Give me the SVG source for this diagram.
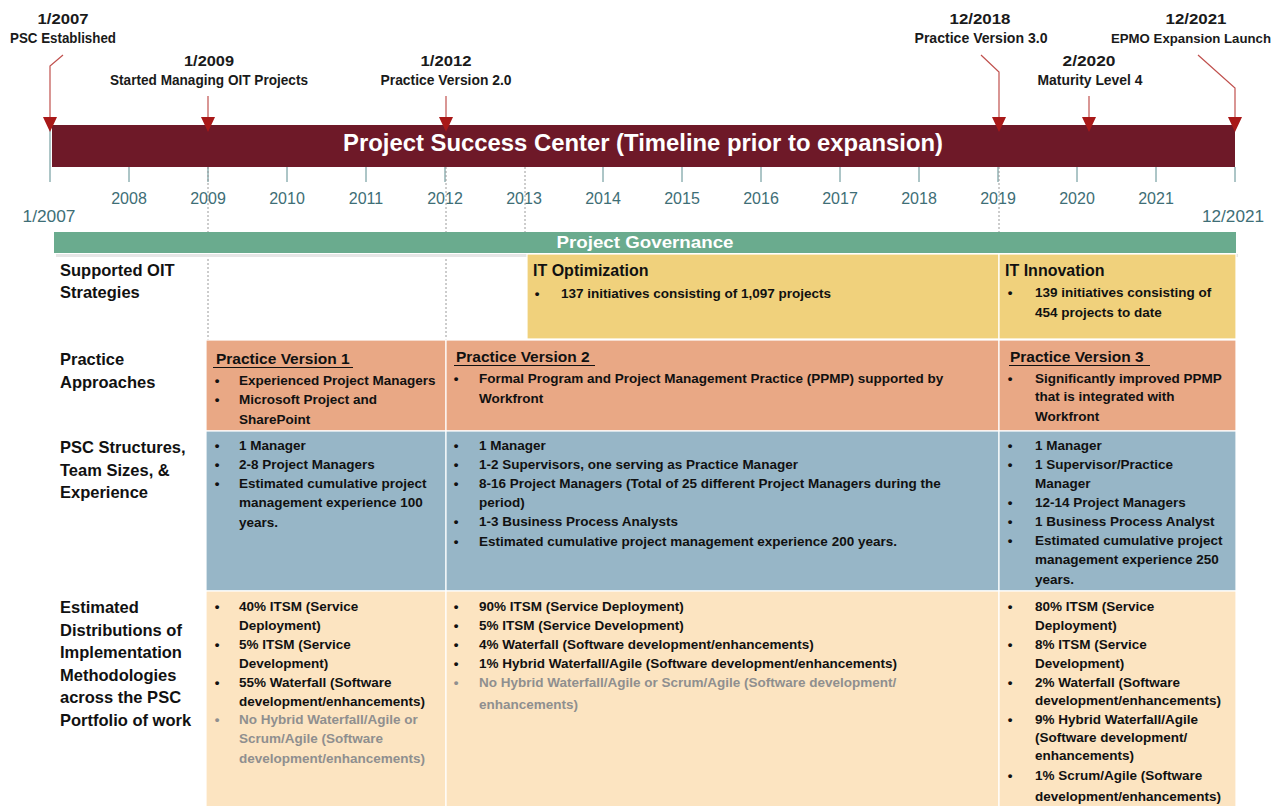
<svg xmlns="http://www.w3.org/2000/svg" width="1286" height="806" viewBox="0 0 1286 806">
<defs>
<style>
.bg{fill:#ffffff}
.ms{font-family:"Liberation Sans",Arial,sans-serif;font-weight:bold;font-size:15px;fill:#1a1a1a;text-anchor:middle}
.yr{font-family:"Liberation Sans",Arial,sans-serif;font-size:16px;fill:#3e6e76;text-anchor:middle}
.tick{stroke:#5a8c8f;stroke-width:1}
.grid{stroke:#9a9a9a;stroke-width:1;stroke-dasharray:2,2;fill:none}
.conn{stroke:#c0504d;stroke-width:1.2;fill:none}
.head{fill:#a81818}
.lbl{font-family:"Liberation Sans",Arial,sans-serif;font-weight:bold;font-size:16.5px;fill:#111}
.cell{stroke:#ffffff;stroke-width:1.2}
.t{font-family:"Liberation Sans",Arial,sans-serif;font-weight:bold;font-size:13.5px;fill:#111}
.g{fill:#8f8f8f}
.b{font-family:"Liberation Sans",Arial,sans-serif;font-weight:bold;font-size:13.5px;fill:#111;text-anchor:middle}
.bg2{fill:#8f8f8f}
.ttl{font-family:"Liberation Sans",Arial,sans-serif;font-weight:bold;font-size:15.5px;fill:#111}
.ul{stroke:#111;stroke-width:1.2}
.st{font-family:"Liberation Sans",Arial,sans-serif;font-weight:bold;font-size:16px;fill:#111}
</style>
</defs>
<rect class="bg" x="0" y="0" width="1286" height="806"/>

<g id="timeline">
  <rect x="52" y="125" width="1183" height="42" fill="#6e1928"/>
  <text x="643" y="151" font-family="Liberation Sans, Arial, sans-serif" font-weight="bold" font-size="23.5" fill="#ffffff" text-anchor="middle" textLength="600" lengthAdjust="spacingAndGlyphs">Project Success Center (Timeline prior to expansion)</text>
  <line class="tick" x1="50" y1="125" x2="50" y2="182"/>
  <line class="tick" x1="129" y1="167" x2="129" y2="182"/>
  <line class="tick" x1="287" y1="167" x2="287" y2="182"/>
  <line class="tick" x1="366" y1="167" x2="366" y2="182"/>
  <line class="tick" x1="603" y1="167" x2="603" y2="182"/>
  <line class="tick" x1="682" y1="167" x2="682" y2="182"/>
  <line class="tick" x1="761" y1="167" x2="761" y2="182"/>
  <line class="tick" x1="840" y1="167" x2="840" y2="182"/>
  <line class="tick" x1="919" y1="167" x2="919" y2="182"/>
  <line class="tick" x1="1077" y1="167" x2="1077" y2="182"/>
  <line class="tick" x1="1156" y1="167" x2="1156" y2="182"/>
  <line class="tick" x1="1235" y1="167" x2="1235" y2="182"/>
  <line class="tick" x1="208" y1="167" x2="208" y2="182"/>
  <line class="tick" x1="445" y1="167" x2="445" y2="182"/>
  <line class="tick" x1="998" y1="167" x2="998" y2="182"/>
  <text class="yr" x="129" y="204">2008</text>
  <text class="yr" x="208" y="204">2009</text>
  <text class="yr" x="287" y="204">2010</text>
  <text class="yr" x="366" y="204">2011</text>
  <text class="yr" x="445" y="204">2012</text>
  <text class="yr" x="524" y="204">2013</text>
  <text class="yr" x="603" y="204">2014</text>
  <text class="yr" x="682" y="204">2015</text>
  <text class="yr" x="761" y="204">2016</text>
  <text class="yr" x="840" y="204">2017</text>
  <text class="yr" x="919" y="204">2018</text>
  <text class="yr" x="998" y="204">2019</text>
  <text class="yr" x="1077" y="204">2020</text>
  <text class="yr" x="1156" y="204">2021</text>
  <text class="yr" x="49" y="222" textLength="53" lengthAdjust="spacingAndGlyphs">1/2007</text>
  <text class="yr" x="1233" y="222" textLength="62" lengthAdjust="spacingAndGlyphs">12/2021</text>
</g>

<g id="gridlines">
  <line class="grid" x1="208" y1="167" x2="208" y2="340"/>
  <line class="grid" x1="446" y1="167" x2="446" y2="340"/>
  <line class="grid" x1="525" y1="167" x2="525" y2="254"/>
  <line class="grid" x1="999" y1="167" x2="999" y2="254"/>
</g>

<g id="connectors">
  <polyline class="conn" points="63,55 50,66 50,118"/>
  <polygon class="head" points="43,117 57,117 50,132"/>
  <line class="conn" x1="208" y1="96" x2="208" y2="118"/>
  <polygon class="head" points="201,117 215,117 208,132"/>
  <line class="conn" x1="446" y1="96" x2="446" y2="118"/>
  <polygon class="head" points="439,117 453,117 446,132"/>
  <polyline class="conn" points="981,55 999,72 999,118"/>
  <polygon class="head" points="992,117 1006,117 999,132"/>
  <line class="conn" x1="1089" y1="96" x2="1089" y2="118"/>
  <polygon class="head" points="1082,117 1096,117 1089,132"/>
  <polyline class="conn" points="1198,55 1235,88 1235,118"/>
  <polygon class="head" points="1228,117 1242,117 1235,132"/>
</g>

<g id="m2007">
  <text class="ms" x="63" y="24" textLength="51" lengthAdjust="spacingAndGlyphs">1/2007</text>
  <text class="ms" x="63" y="43" textLength="106" lengthAdjust="spacingAndGlyphs">PSC Established</text>
</g>
<g id="m2009">
  <text class="ms" x="209" y="66" textLength="50" lengthAdjust="spacingAndGlyphs">1/2009</text>
  <text class="ms" x="209" y="85" textLength="198" lengthAdjust="spacingAndGlyphs">Started Managing OIT Projects</text>
</g>
<g id="m2012">
  <text class="ms" x="446" y="66" textLength="51" lengthAdjust="spacingAndGlyphs">1/2012</text>
  <text class="ms" x="446" y="85" textLength="131" lengthAdjust="spacingAndGlyphs">Practice Version 2.0</text>
</g>
<g id="m2018">
  <text class="ms" x="980" y="24" textLength="61" lengthAdjust="spacingAndGlyphs">12/2018</text>
  <text class="ms" x="981" y="43" textLength="133" lengthAdjust="spacingAndGlyphs">Practice Version 3.0</text>
</g>
<g id="m2020">
  <text class="ms" x="1089" y="66" textLength="53" lengthAdjust="spacingAndGlyphs">2/2020</text>
  <text class="ms" x="1090" y="85" textLength="105" lengthAdjust="spacingAndGlyphs">Maturity Level 4</text>
</g>
<g id="m2021">
  <text class="ms" x="1196" y="24" textLength="61" lengthAdjust="spacingAndGlyphs">12/2021</text>
  <text class="ms" x="1191" y="43" style="font-size:13.5px" textLength="160" lengthAdjust="spacingAndGlyphs">EPMO Expansion Launch</text>
</g>

<g id="governance">
  <rect x="56" y="254" width="1182" height="3" fill="#e6e6e6"/>
  <rect x="54" y="232" width="1182" height="21" fill="#6aab8e"/>
  <text x="645" y="248" font-family="Liberation Sans, Arial, sans-serif" font-weight="bold" font-size="17" fill="#ffffff" text-anchor="middle" textLength="177" lengthAdjust="spacingAndGlyphs">Project Governance</text>
</g>

<g id="row-labels">
  <text class="lbl" x="60" y="276">Supported OIT</text>
  <text class="lbl" x="60" y="298">Strategies</text>
  <text class="lbl" x="60" y="365">Practice</text>
  <text class="lbl" x="60" y="388">Approaches</text>
  <text class="lbl" x="60" y="453">PSC Structures,</text>
  <text class="lbl" x="60" y="476">Team Sizes, &amp;</text>
  <text class="lbl" x="60" y="498">Experience</text>
  <text class="lbl" x="60" y="613">Estimated</text>
  <text class="lbl" x="60" y="636">Distributions of</text>
  <text class="lbl" x="60" y="658">Implementation</text>
  <text class="lbl" x="60" y="681">Methodologies</text>
  <text class="lbl" x="60" y="703">across the PSC</text>
  <text class="lbl" x="60" y="726">Portfolio of work</text>
</g>

<g id="it-optimization">
  <rect class="cell" x="527" y="254" width="472" height="85" fill="#f0d17c"/>
  <text class="st" x="533" y="276">IT Optimization</text>
  <text class="b" x="537" y="298">•</text>
  <text class="t" x="561" y="298">137 initiatives consisting of 1,097 projects</text>
</g>
<g id="it-innovation">
  <rect class="cell" x="999" y="254" width="237" height="85" fill="#f0d17c"/>
  <text class="st" x="1005" y="276">IT Innovation</text>
  <text class="b" x="1010" y="297">•</text>
  <text class="t" x="1035" y="297">139 initiatives consisting of</text>
  <text class="t" x="1035" y="317">454 projects to date</text>
</g>

<g id="practice-v1">
  <rect class="cell" x="206" y="340" width="240" height="91" fill="#e9a885"/>
  <text class="ttl" x="216" y="364">Practice Version 1</text>
  <line class="ul" x1="213" y1="367.5" x2="353" y2="367.5"/>
  <text class="b" x="217" y="385">•</text>
  <text class="t" x="239" y="385">Experienced Project Managers</text>
  <text class="b" x="217" y="404">•</text>
  <text class="t" x="239" y="404">Microsoft Project and</text>
  <text class="t" x="239" y="424">SharePoint</text>
</g>
<g id="practice-v2">
  <rect class="cell" x="446" y="340" width="553" height="91" fill="#e9a885"/>
  <text class="ttl" x="456" y="362">Practice Version 2</text>
  <line class="ul" x1="454" y1="365.5" x2="595" y2="365.5"/>
  <text class="b" x="456" y="383">•</text>
  <text class="t" x="479" y="383">Formal Program and Project Management Practice (PPMP) supported by</text>
  <text class="t" x="479" y="403">Workfront</text>
</g>
<g id="practice-v3">
  <rect class="cell" x="999" y="340" width="237" height="91" fill="#e9a885"/>
  <text class="ttl" x="1010" y="362">Practice Version 3</text>
  <line class="ul" x1="1009" y1="365.5" x2="1150" y2="365.5"/>
  <text class="b" x="1010" y="383">•</text>
  <text class="t" x="1035" y="383">Significantly improved PPMP</text>
  <text class="t" x="1035" y="401">that is integrated with</text>
  <text class="t" x="1035" y="421">Workfront</text>
</g>

<g id="structure-v1">
  <rect class="cell" x="206" y="431" width="240" height="160" fill="#97b6c7"/>
  <text class="b" x="217" y="450">•</text>
  <text class="t" x="239" y="450">1 Manager</text>
  <text class="b" x="217" y="469">•</text>
  <text class="t" x="239" y="469">2-8 Project Managers</text>
  <text class="b" x="217" y="488">•</text>
  <text class="t" x="239" y="488">Estimated cumulative project</text>
  <text class="t" x="239" y="507">management experience 100</text>
  <text class="t" x="239" y="527">years.</text>
</g>
<g id="structure-v2">
  <rect class="cell" x="446" y="431" width="553" height="160" fill="#97b6c7"/>
  <text class="b" x="456" y="450">•</text>
  <text class="t" x="479" y="450">1 Manager</text>
  <text class="b" x="456" y="469">•</text>
  <text class="t" x="479" y="469">1-2 Supervisors, one serving as Practice Manager</text>
  <text class="b" x="456" y="488">•</text>
  <text class="t" x="479" y="488">8-16 Project Managers (Total of 25 different Project Managers during the</text>
  <text class="t" x="479" y="507">period)</text>
  <text class="b" x="456" y="526">•</text>
  <text class="t" x="479" y="526">1-3 Business Process Analysts</text>
  <text class="b" x="456" y="546">•</text>
  <text class="t" x="479" y="546">Estimated cumulative project management experience 200 years.</text>
</g>
<g id="structure-v3">
  <rect class="cell" x="999" y="431" width="237" height="160" fill="#97b6c7"/>
  <text class="b" x="1010" y="450">•</text>
  <text class="t" x="1035" y="450">1 Manager</text>
  <text class="b" x="1010" y="469">•</text>
  <text class="t" x="1035" y="469">1 Supervisor/Practice</text>
  <text class="t" x="1035" y="488">Manager</text>
  <text class="b" x="1010" y="507">•</text>
  <text class="t" x="1035" y="507">12-14 Project Managers</text>
  <text class="b" x="1010" y="526">•</text>
  <text class="t" x="1035" y="526">1 Business Process Analyst</text>
  <text class="b" x="1010" y="545">•</text>
  <text class="t" x="1035" y="545">Estimated cumulative project</text>
  <text class="t" x="1035" y="564">management experience 250</text>
  <text class="t" x="1035" y="584">years.</text>
</g>

<g id="method-v1">
  <rect class="cell" x="206" y="591" width="240" height="216" fill="#fce4c1"/>
  <text class="b" x="217" y="611">•</text>
  <text class="t" x="239" y="611">40% ITSM (Service</text>
  <text class="t" x="239" y="630">Deployment)</text>
  <text class="b" x="217" y="649">•</text>
  <text class="t" x="239" y="649">5% ITSM (Service</text>
  <text class="t" x="239" y="668">Development)</text>
  <text class="b" x="217" y="687">•</text>
  <text class="t" x="239" y="687">55% Waterfall (Software</text>
  <text class="t" x="239" y="706">development/enhancements)</text>
  <text class="b bg2" x="217" y="724">•</text>
  <text class="t g" x="239" y="724">No Hybrid Waterfall/Agile or</text>
  <text class="t g" x="239" y="743">Scrum/Agile (Software</text>
  <text class="t g" x="239" y="763">development/enhancements)</text>
</g>
<g id="method-v2">
  <rect class="cell" x="446" y="591" width="553" height="216" fill="#fce4c1"/>
  <text class="b" x="456" y="611">•</text>
  <text class="t" x="479" y="611">90% ITSM (Service Deployment)</text>
  <text class="b" x="456" y="630">•</text>
  <text class="t" x="479" y="630">5% ITSM (Service Development)</text>
  <text class="b" x="456" y="649">•</text>
  <text class="t" x="479" y="649">4% Waterfall (Software development/enhancements)</text>
  <text class="b" x="456" y="668">•</text>
  <text class="t" x="479" y="668">1% Hybrid Waterfall/Agile (Software development/enhancements)</text>
  <text class="b bg2" x="456" y="687">•</text>
  <text class="t g" x="479" y="687">No Hybrid Waterfall/Agile or Scrum/Agile (Software development/</text>
  <text class="t g" x="479" y="709">enhancements)</text>
</g>
<g id="method-v3">
  <rect class="cell" x="999" y="591" width="237" height="216" fill="#fce4c1"/>
  <text class="b" x="1010" y="611">•</text>
  <text class="t" x="1035" y="611">80% ITSM (Service</text>
  <text class="t" x="1035" y="630">Deployment)</text>
  <text class="b" x="1010" y="649">•</text>
  <text class="t" x="1035" y="649">8% ITSM (Service</text>
  <text class="t" x="1035" y="668">Development)</text>
  <text class="b" x="1010" y="687">•</text>
  <text class="t" x="1035" y="687">2% Waterfall (Software</text>
  <text class="t" x="1035" y="705">development/enhancements)</text>
  <text class="b" x="1010" y="724">•</text>
  <text class="t" x="1035" y="724">9% Hybrid Waterfall/Agile</text>
  <text class="t" x="1035" y="742">(Software development/</text>
  <text class="t" x="1035" y="760">enhancements)</text>
  <text class="b" x="1010" y="780">•</text>
  <text class="t" x="1035" y="780">1% Scrum/Agile (Software</text>
  <text class="t" x="1035" y="801">development/enhancements)</text>
</g>
</svg>
